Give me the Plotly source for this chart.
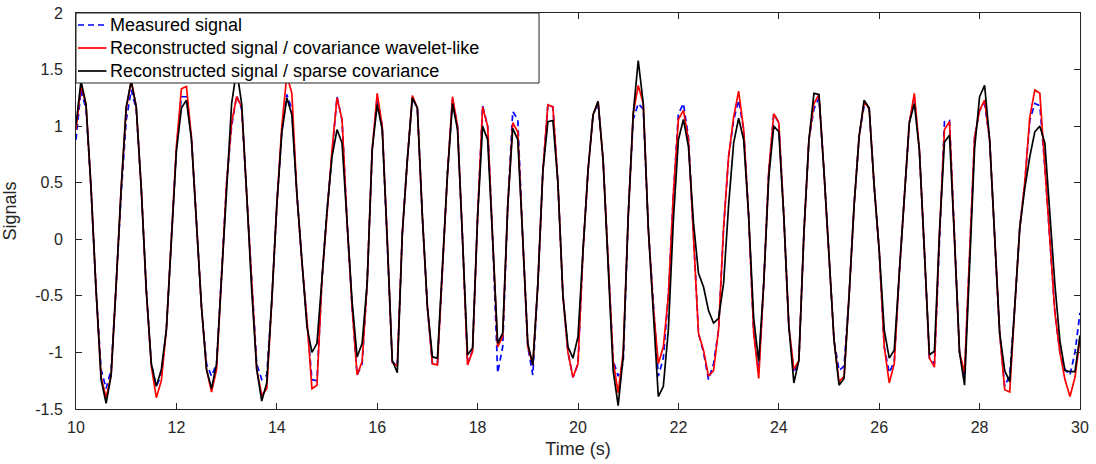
import plotly.graph_objects as go

t_start, t_step, n_pts = 10.0, 0.1, 201
time_s = [round(t_start + i * t_step, 1) for i in range(n_pts)]

measured = [
    0.88, 1.32, 1.15, 0.45, -0.45, -1.15, -1.32, -1.15, -0.40, 0.40,
    1.05, 1.32, 1.15, 0.45, -0.45, -1.10, -1.30, -1.20, -0.80, 0.05,
    0.80, 1.26, 1.26, 0.90, 0.10, -0.60, -1.10, -1.21, -1.10, -0.30,
    0.50, 1.00, 1.27, 1.15, 0.40, -0.45, -1.10, -1.24, -1.20, -0.55,
    0.30, 0.95, 1.28, 1.15, 0.40, -0.20, -0.75, -1.24, -1.25, -0.35,
    0.25, 0.79, 1.26, 1.05, 0.15, -0.60, -1.20, -1.10, -0.39, 0.79,
    1.25, 1.00, 0.00, -1.08, -1.12, 0.05, 0.70, 1.25, 1.16, 0.20,
    -0.60, -1.10, -1.10, -0.24, 0.58, 1.24, 1.00, 0.00, -1.10, -0.98,
    0.20, 1.18, 1.00, 0.00, -1.18, -0.95, 0.29, 1.13, 1.06, 0.00,
    -0.95, -1.20, -0.40, 0.60, 1.19, 1.17, 0.50, -0.50, -1.00, -1.22,
    -1.10, -0.10, 0.61, 1.10, 1.20, 0.70, -0.24, -1.07, -1.21, -1.10,
    0.20, 1.06, 1.20, 1.15, 0.10, -0.60, -1.21, -1.05, -0.50, 0.40,
    1.11, 1.20, 0.90, 0.05, -0.83, -1.00, -1.24, -1.10, -0.80, 0.10,
    0.73, 1.05, 1.23, 0.97, 0.20, -0.83, -1.16, -0.39, 0.60, 1.11,
    1.03, 0.20, -0.77, -1.18, -1.07, 0.05, 0.88, 1.15, 1.25, 0.60,
    -0.20, -0.89, -1.16, -1.12, -0.50, 0.30, 0.91, 1.18, 1.16, 0.47,
    -0.10, -0.95, -1.18, -1.08, -0.30, 0.40, 1.03, 1.25, 0.79, -0.10,
    -1.05, -1.10, 0.05, 1.04, 1.05, 0.00, -1.00, -1.21, -0.20, 0.90,
    1.14, 1.20, 0.88, 0.05, -0.83, -1.30, -1.20, -0.60, 0.10, 0.50,
    1.05, 1.20, 1.18, 0.64, -0.05, -0.65, -1.00, -1.15, -1.20, -1.00,
    -0.65,
]

recon_wavelet = [
    0.97, 1.36, 1.19, 0.45, -0.45, -1.22, -1.40, -1.20, -0.40, 0.45,
    1.15, 1.40, 1.17, 0.45, -0.45, -1.12, -1.40, -1.25, -0.80, 0.05,
    0.82, 1.33, 1.35, 0.90, 0.10, -0.60, -1.15, -1.35, -1.15, -0.30,
    0.50, 1.03, 1.26, 1.17, 0.40, -0.45, -1.15, -1.38, -1.32, -0.55,
    0.30, 1.00, 1.45, 1.29, 0.40, -0.20, -0.71, -1.32, -1.29, -0.35,
    0.25, 0.79, 1.25, 1.06, 0.15, -0.60, -1.20, -1.08, -0.39, 0.79,
    1.29, 1.00, 0.00, -1.09, -1.12, 0.05, 0.70, 1.27, 1.16, 0.20,
    -0.60, -1.10, -1.11, -0.24, 0.58, 1.26, 1.00, 0.00, -1.11, -0.99,
    0.20, 1.17, 1.00, 0.00, -0.95, -0.86, 0.29, 1.03, 0.95, 0.00,
    -0.95, -1.11, -0.40, 0.60, 1.19, 1.17, 0.50, -0.50, -1.00, -1.22,
    -1.10, -0.10, 0.61, 1.10, 1.22, 0.70, -0.24, -1.07, -1.36, -1.00,
    0.20, 1.11, 1.36, 1.20, 0.10, -0.60, -1.10, -0.95, -0.50, 0.40,
    1.06, 1.14, 0.88, 0.05, -0.83, -0.98, -1.21, -1.16, -0.80, 0.10,
    0.73, 1.08, 1.31, 0.97, 0.20, -0.83, -1.23, -0.39, 0.60, 1.11,
    1.03, 0.20, -0.77, -1.15, -1.07, 0.05, 0.88, 1.20, 1.28, 0.60,
    -0.20, -0.89, -1.26, -1.21, -0.50, 0.30, 0.91, 1.21, 1.16, 0.47,
    -0.10, -0.95, -1.27, -1.10, -0.30, 0.40, 1.03, 1.29, 0.79, -0.10,
    -1.05, -1.13, 0.05, 0.97, 1.04, 0.00, -1.00, -1.18, -0.20, 0.90,
    1.14, 1.23, 0.88, 0.05, -0.83, -1.33, -1.35, -0.60, 0.10, 0.50,
    1.08, 1.32, 1.29, 0.64, -0.05, -0.65, -1.00, -1.24, -1.39, -1.22,
    -0.88,
]

recon_sparse = [
    1.01, 1.40, 1.19, 0.45, -0.45, -1.24, -1.45, -1.20, -0.40, 0.45,
    1.17, 1.40, 1.17, 0.45, -0.45, -1.10, -1.30, -1.15, -0.80, 0.05,
    0.78, 1.16, 1.23, 0.88, 0.10, -0.60, -1.15, -1.32, -1.10, -0.30,
    0.50, 1.20, 1.50, 1.20, 0.40, -0.45, -1.15, -1.43, -1.27, -0.54,
    0.30, 0.94, 1.25, 1.10, 0.40, -0.20, -0.77, -1.00, -0.92, -0.35,
    0.25, 0.73, 0.97, 0.85, 0.15, -0.55, -1.04, -0.92, -0.39, 0.79,
    1.19, 0.97, 0.00, -1.07, -1.18, 0.05, 0.70, 1.25, 1.16, 0.20,
    -0.60, -1.04, -1.05, -0.24, 0.58, 1.20, 0.97, 0.00, -1.02, -0.96,
    0.20, 1.00, 0.88, 0.00, -0.92, -0.83, 0.29, 0.98, 0.88, 0.00,
    -0.92, -1.11, -0.40, 0.60, 1.04, 1.05, 0.50, -0.50, -0.95, -1.05,
    -0.86, -0.10, 0.61, 1.10, 1.22, 0.70, -0.24, -1.16, -1.47, -1.04,
    0.20, 1.11, 1.58, 1.20, 0.10, -0.70, -1.39, -1.30, -0.80, 0.17,
    0.88, 1.06, 0.82, 0.15, -0.30, -0.42, -0.63, -0.74, -0.70, -0.39,
    0.30, 0.85, 1.07, 0.88, 0.20, -0.70, -1.08, -0.39, 0.55, 1.00,
    0.95, 0.20, -0.77, -1.27, -1.07, 0.05, 0.88, 1.29, 1.28, 0.60,
    -0.20, -0.89, -1.29, -1.23, -0.50, 0.30, 0.91, 1.23, 1.16, 0.47,
    -0.10, -0.80, -1.05, -0.98, -0.30, 0.40, 1.03, 1.20, 0.79, -0.10,
    -1.02, -0.99, 0.05, 0.86, 0.92, 0.00, -1.00, -1.29, -0.30, 0.80,
    1.26, 1.36, 0.88, 0.05, -0.83, -1.16, -1.26, -0.60, 0.10, 0.45,
    0.73, 0.95, 1.00, 0.85, 0.26, -0.40, -0.90, -1.16, -1.17, -1.17,
    -0.85,
]

series_names = [
    "Measured signal",
    "Reconstructed signal / covariance wavelet-like",
    "Reconstructed signal / sparse covariance",
]
series_colors = ["#0000FF", "#FF0000", "#000000"]
series_dash = ["6px,4px", "solid", "solid"]

x_ticks = [10, 12, 14, 16, 18, 20, 22, 24, 26, 28, 30]
y_ticks = [-1.5, -1, -0.5, 0, 0.5, 1, 1.5, 2]
y_tick_text = ["-1.5", "-1", "-0.5", "0", "0.5", "1", "1.5", "2"]

# Page body margin is removed (post_script below), so the figure fills the window.
W, H = 1096, 464
ML, MT = 75.5, 13
MR = W - 1080.5
MB = H - 409
PW, PH = W - ML - MR, H - MT - MB


def px_x(px):
    # screen pixel -> paper coordinate
    return (px - ML) / PW


def px_y(py):
    return (H - MB - py) / PH


FONT = "Liberation Sans, Arial, Helvetica, sans-serif"
AX = "#262626"

fig = go.Figure()
for name, ys, col, dsh in zip(series_names, [measured, recon_wavelet, recon_sparse],
                              series_colors, series_dash):
    fig.add_trace(go.Scatter(x=time_s, y=ys, mode="lines", name=name, showlegend=False,
                             line=dict(color=col, width=1.7, dash=dsh)))

# legend box drawn over the plot (like the original, it hides the lines behind it)
shapes = [dict(type="rect", xref="paper", yref="paper", x0=0, x1=px_x(539),
               y0=px_y(83), y1=1, fillcolor="white", line=dict(color=AX, width=1),
               layer="above")]
annotations = []
row_y = [25, 48, 71]
for name, col, dsh, ry in zip(series_names, series_colors, series_dash, row_y):
    shapes.append(dict(type="line", xref="paper", yref="paper", x0=px_x(77.5), x1=px_x(106),
                       y0=px_y(ry), y1=px_y(ry), layer="above",
                       line=dict(color=col, width=1.7, dash=dsh)))
    annotations.append(dict(xref="paper", yref="paper", x=px_x(107.5), y=px_y(ry),
                            xanchor="left", yanchor="middle", text=name, showarrow=False,
                            font=dict(family=FONT, size=18, color="black")))

axis_common = dict(showgrid=False, zeroline=False, showline=True, linecolor=AX,
                   linewidth=1, mirror="allticks", ticks="inside", ticklen=6,
                   tickcolor=AX, automargin=False, ticklabeloverflow="allow",
                   tickfont=dict(family=FONT, size=16, color=AX))

fig.update_layout(
    width=W, height=H,
    margin=dict(l=ML, r=MR, t=MT, b=MB, autoexpand=False),
    paper_bgcolor="white", plot_bgcolor="white",
    font=dict(family=FONT, color=AX),
    showlegend=False,
    shapes=shapes,
    annotations=annotations,
    xaxis=dict(range=[10, 30], tickvals=x_ticks, ticklabelstandoff=4,
               title=dict(text="Time (s)", font=dict(family=FONT, size=18, color=AX), standoff=7),
               **axis_common),
    yaxis=dict(range=[-1.5, 2], tickvals=y_ticks, ticktext=y_tick_text, ticklabelstandoff=9,
               title=dict(text="Signals", font=dict(family=FONT, size=18, color=AX), standoff=13),
               **axis_common),
)

fig.write_html("out.html",
               config={"displayModeBar": False},
               post_script="document.body.style.margin='0px';"
                           "document.body.style.overflow='hidden';")
